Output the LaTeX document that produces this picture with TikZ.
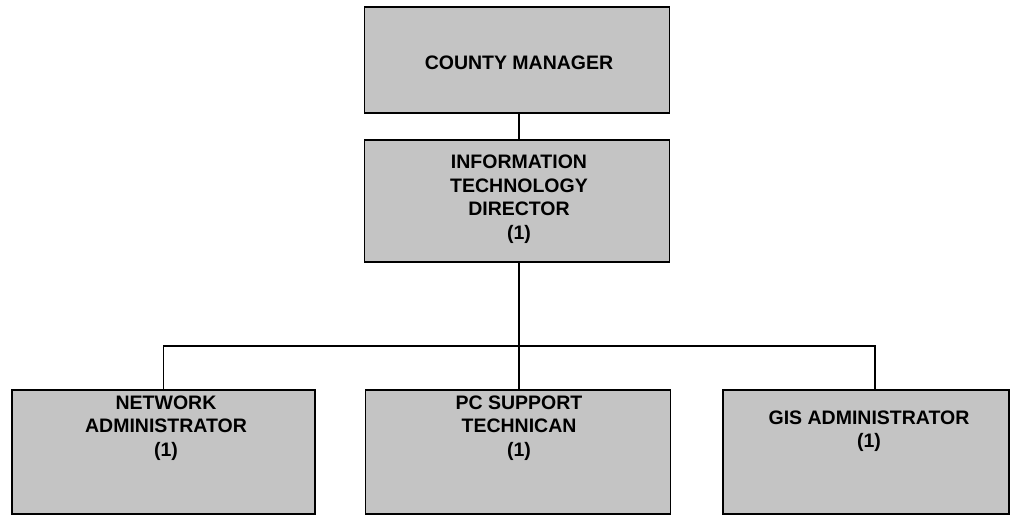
\documentclass[tikz,border=0pt]{standalone}
\usepackage{fontspec}
\setmainfont{Liberation Sans}
\begin{document}
\begin{tikzpicture}[x=1pt,y=-1pt,
  box/.style={draw=black,line width=1.6pt,fill=boxgray,rectangle,inner sep=0pt},
  lbl/.style={align=center,font=\bfseries\fontsize{19.5}{23.5}\selectfont,inner sep=0pt},
  conn/.style={draw=black,line width=1.3pt}]
\definecolor{boxgray}{gray}{0.77}
\useasboundingbox (0,0) rectangle (1016,519);
\node[box,minimum width=305pt,minimum height=106pt] (cm) at (517,60) {};
\node[box,minimum width=305pt,minimum height=122pt] (it) at (517,201) {};
\node[box,minimum width=303pt,minimum height=124pt] (na) at (163.5,452) {};
\node[box,minimum width=305pt,minimum height=124pt] (pc) at (518,452) {};
\node[box,minimum width=286pt,minimum height=124pt] (gis) at (866,452) {};
\node[lbl] (cmt) at (519,63) {COUNTY MANAGER};
\node[lbl] (itt) at (519,199) {INFORMATION\\TECHNOLOGY\\DIRECTOR\\(1)};
\node[lbl] (nat) at (166,428) {NETWORK\\ADMINISTRATOR\\(1)};
\node[lbl] (pct) at (519,428) {PC SUPPORT\\TECHNICAN\\(1)};
\node[lbl] (gist) at (869,431) {GIS ADMINISTRATOR\\(1)};
\coordinate (bus) at (519,346);
\draw[conn] (cm.south -| bus) -- (it.north -| bus);
\draw[conn] (it.south -| bus) -- (pc.north -| bus);
\draw[conn] (na.north) |- (bus) -| ([xshift=9pt]gis.north);
\end{tikzpicture}
\end{document}
